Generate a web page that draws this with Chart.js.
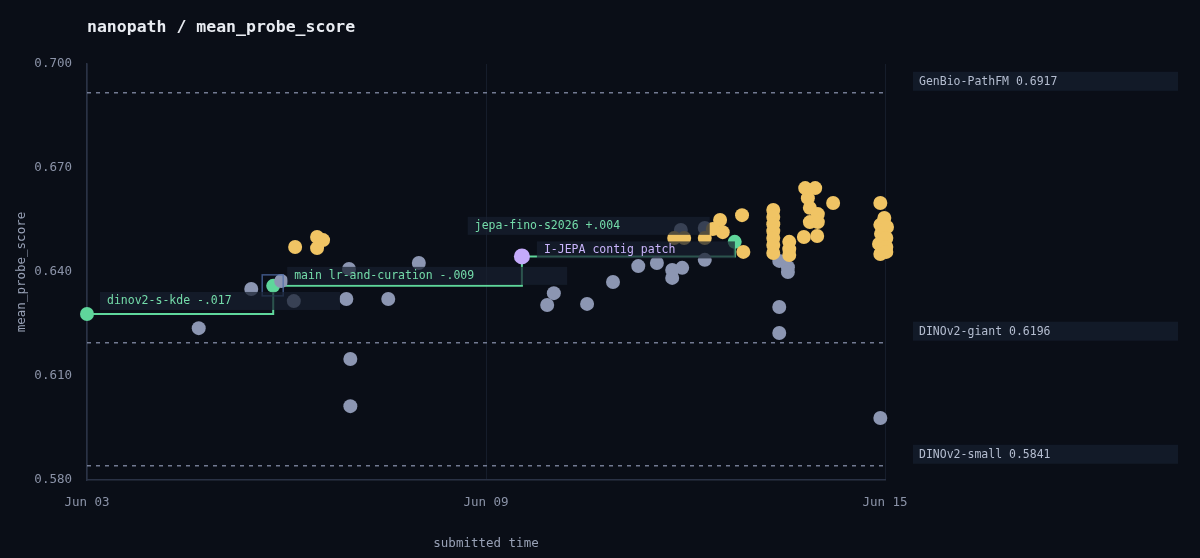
<!DOCTYPE html>
<html>
<head>
<meta charset="utf-8">
<script src="https://cdn.jsdelivr.net/npm/chart.js@4.4.1/dist/chart.umd.min.js"></script>
<style>
  html, body { margin: 0; padding: 0; background: #0a0e17; }
  #wrap { width: 1200px; height: 558px; position: relative; }
</style>
</head>
<body>
<div id="wrap"><canvas id="chart"></canvas></div>
<script>
// submitted time is kept as fractional day of June
const xTickDays = [3, 9, 15];
const xTickLabels = ["Jun 03", "Jun 09", "Jun 15"];
const yTickValues = [0.58, 0.61, 0.64, 0.67, 0.70];

// running best (frontier) submissions
const frontierNames = ["dinov2-s-kde", "main lr-and-curation", "I-JEPA contig patch", "jepa-fino-s2026"];
const frontierDeltas = ["-.017", "-.009", "", "+.004"];
const frontierTime = [3.0, 5.8, 9.54, 12.74];
const frontierScore = [0.6279, 0.636, 0.6445, 0.6487];

// other submissions
const otherTime = [4.68, 5.47, 5.92, 6.11, 6.94, 6.9, 7.53, 7.99, 6.96, 6.96,
  10.02, 9.92, 10.52, 10.91, 11.29, 11.57, 11.8, 11.8, 11.95, 12.29,
  11.93, 12.29, 13.41, 13.54, 13.54, 13.41, 13.41, 14.93];
const otherScore = [0.6238, 0.6351, 0.6374, 0.6316, 0.6409, 0.6322, 0.6322, 0.6426, 0.6149, 0.6013,
  0.6339, 0.6305, 0.6308, 0.6371, 0.6417, 0.6426, 0.6406, 0.6383, 0.6412, 0.6435,
  0.6521, 0.6527, 0.6432, 0.6414, 0.64, 0.6299, 0.6224, 0.5979];

// flagged submissions (yellow)
const flaggedTime = [6.13, 6.46, 6.55, 6.46,
  11.83, 11.98, 12.29, 12.41, 12.52, 12.56, 12.85, 12.87,
  13.32, 13.32, 13.32, 13.32, 13.32, 13.32, 13.32,
  13.56, 13.56, 13.56,
  13.8, 13.95, 13.84, 13.87, 13.99, 13.87, 13.99, 13.78, 13.98, 14.22,
  14.93, 14.99, 14.93, 15.03, 14.94, 15.02, 14.91, 15.02, 14.93, 15.02];
const flaggedScore = [0.6472, 0.6501, 0.6492, 0.6469,
  0.6498, 0.6498, 0.6498, 0.6524, 0.655, 0.6515, 0.6564, 0.6458,
  0.6579, 0.6559, 0.6538, 0.6518, 0.6498, 0.6478, 0.6455,
  0.6487, 0.6466, 0.6449,
  0.6642, 0.6642, 0.6613, 0.6585, 0.6567, 0.6544, 0.6544, 0.6501, 0.6504, 0.6599,
  0.6599, 0.6556, 0.6536, 0.653, 0.651, 0.6498, 0.6481, 0.6472, 0.6452, 0.6458];

// reference models
const refNames = ["GenBio-PathFM", "DINOv2-giant", "DINOv2-small"];
const refScores = [0.6917, 0.6196, 0.5841];

const MONO = "'DejaVu Sans Mono', monospace";
const GREEN = "#5fd69b";
const PURPLE = "#c4aafa";
const GRAY = "#8c96b2";
const YELLOW = "#f0c464";

const toPoints = (xs, ys) => xs.map((x, i) => ({ x, y: ys[i] }));

// label placement relative to each frontier point (px)
const frontierLabelBoxes = [
  { dx: 13, dy: -22, w: 240, h: 18 },
  { dx: 14, dy: -19, w: 280, h: 18 },
  { dx: 15, dy: -15, w: 198, h: 17 },
  { dx: -267, dy: -25, w: 242, h: 18 },
];

const overlayPlugin = {
  id: "overlay",
  afterDatasetsDraw(chart) {
    const { ctx, chartArea, scales } = chart;
    const xs = scales.x, ys = scales.y;
    ctx.save();
    ctx.font = `11.5px ${MONO}`;
    ctx.textBaseline = "middle";
    ctx.textAlign = "left";

    // highlight square round the second frontier point
    const hx = xs.getPixelForValue(frontierTime[1]);
    const hy = ys.getPixelForValue(frontierScore[1]);
    ctx.strokeStyle = "rgba(80,110,170,0.75)";
    ctx.lineWidth = 1.5;
    ctx.strokeRect(hx - 11, hy - 11, 21, 21);

    frontierNames.forEach((name, i) => {
      const px = xs.getPixelForValue(frontierTime[i]);
      const py = ys.getPixelForValue(frontierScore[i]);
      const b = frontierLabelBoxes[i];
      const bx = px + b.dx, by = py + b.dy;
      ctx.fillStyle = "rgba(24,32,47,0.72)";
      ctx.fillRect(bx, by, b.w, b.h);
      ctx.fillStyle = i === 2 ? "#c9b4fb" : "#74dcaa";
      const text = frontierDeltas[i] ? `${name} ${frontierDeltas[i]}` : name;
      ctx.fillText(text, bx + 7, by + b.h / 2 + 0.5);
    });

    // reference labels in the right margin
    refNames.forEach((name, i) => {
      const py = ys.getPixelForValue(refScores[i]);
      const top = py - 21;
      ctx.fillStyle = "#121a28";
      ctx.fillRect(chartArea.right + 28, top, 265, 19);
      ctx.fillStyle = "#b4bdd0";
      ctx.fillText(`${name} ${refScores[i].toFixed(4)}`, chartArea.right + 34, top + 10);
    });

    // title
    ctx.font = `bold 16.5px ${MONO}`;
    ctx.fillStyle = "#e9ecf2";
    ctx.fillText("nanopath / mean_probe_score", chartArea.left, 28);
    ctx.restore();
  },
};

const refDatasets = refScores.map((v) => ({
  label: "ref",
  data: [{ x: xTickDays[0], y: v }, { x: xTickDays[xTickDays.length - 1], y: v }],
  showLine: true,
  borderColor: "rgba(140,150,178,0.8)",
  borderWidth: 1.5,
  borderDash: [4, 5],
  pointRadius: 0,
  order: 5,
}));

new Chart(document.getElementById("chart"), {
  type: "scatter",
  data: {
    datasets: [
      {
        label: "flagged",
        data: toPoints(flaggedTime, flaggedScore),
        backgroundColor: YELLOW,
        borderWidth: 0,
        pointRadius: 7,
        order: 1,
        clip: false,
      },
      {
        label: "other",
        data: toPoints(otherTime, otherScore),
        backgroundColor: GRAY,
        borderWidth: 0,
        pointRadius: 7,
        order: 2,
        clip: false,
      },
      {
        label: "frontier",
        data: toPoints(frontierTime, frontierScore),
        showLine: true,
        stepped: "before",
        borderColor: GREEN,
        borderWidth: 2,
        backgroundColor: frontierNames.map((n, i) => (i === 2 ? PURPLE : GREEN)),
        pointBorderWidth: 0,
        pointRadius: frontierNames.map((n, i) => (i === 2 ? 8 : 7)),
        order: 3,
        clip: false,
      },
      ...refDatasets,
    ],
  },
  options: {
    responsive: true,
    maintainAspectRatio: false,
    animation: false,
    devicePixelRatio: 1,
    layout: { padding: { top: 64, right: 315, bottom: 0, left: 0 } },
    plugins: {
      legend: { display: false },
      tooltip: { enabled: false },
      title: { display: false },
    },
    scales: {
      x: {
        type: "linear",
        min: xTickDays[0],
        max: xTickDays[xTickDays.length - 1],
        afterBuildTicks: (scale) => {
          scale.ticks = xTickDays.map((v) => ({ value: v }));
        },
        afterFit: (scale) => {
          scale.height = 78;
        },
        ticks: {
          color: "#8b93a8",
          font: { family: MONO, size: 12.5 },
          padding: 15,
          maxRotation: 0,
          callback: (value) => xTickLabels[xTickDays.indexOf(value)],
        },
        grid: { color: "#161d2b", drawTicks: false, lineWidth: 1 },
        border: { color: "#2a3245", width: 1.5 },
        title: {
          display: true,
          text: "submitted time",
          color: "#98a1b6",
          font: { family: MONO, size: 12.5 },
          padding: { top: 0, bottom: 6.5 },
        },
      },
      y: {
        type: "linear",
        min: yTickValues[0],
        max: yTickValues[yTickValues.length - 1],
        afterBuildTicks: (scale) => {
          scale.ticks = yTickValues.map((v) => ({ value: v }));
        },
        afterFit: (scale) => {
          scale.width = 87;
        },
        ticks: {
          color: "#8b93a8",
          font: { family: MONO, size: 12.5 },
          padding: 15,
          callback: (value) => value.toFixed(3),
        },
        grid: { display: false, drawTicks: false },
        border: { color: "#2a3245", width: 1.5 },
        title: {
          display: true,
          text: "mean_probe_score",
          color: "#98a1b6",
          font: { family: MONO, size: 12.5 },
          padding: { top: 14, bottom: 0 },
        },
      },
    },
  },
  plugins: [overlayPlugin],
});
</script>
</body>
</html>
